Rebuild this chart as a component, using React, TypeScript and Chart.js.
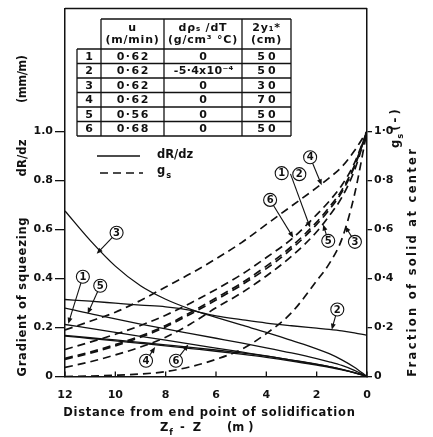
import React, { useEffect, useRef } from 'react';
import { Chart, registerables } from 'chart.js';

Chart.register(...registerables);

// ---------------- data ----------------
const distance = [12, 11, 10, 9, 8, 7, 6, 5, 4, 3, 2, 1.5, 1, 0.5, 0];

// gradient of squeezing dR/dz (mm/m), left axis, solid lines
const dRdzCase1 = [0.212, 0.196, 0.18, 0.164, 0.148, 0.132, 0.116, 0.1, 0.084, 0.067, 0.049, 0.04, 0.029, 0.016, 0];
const dRdzCase2 = [0.314, 0.307, 0.299, 0.291, 0.284, 0.27, 0.247, 0.232, 0.218, 0.207, 0.197, 0.192, 0.186, 0.178, 0.168];
const dRdzCase3 = [0.675, 0.555, 0.45, 0.37, 0.315, 0.274, 0.241, 0.21, 0.18, 0.147, 0.113, 0.093, 0.068, 0.038, 0];
const dRdzCase4 = [0.165, 0.155, 0.145, 0.135, 0.125, 0.114, 0.103, 0.091, 0.078, 0.063, 0.046, 0.037, 0.027, 0.015, 0];
const dRdzCase5 = [0.279, 0.256, 0.235, 0.214, 0.194, 0.175, 0.156, 0.137, 0.117, 0.096, 0.073, 0.06, 0.045, 0.025, 0];
const dRdzCase6 = [0.168, 0.158, 0.149, 0.139, 0.129, 0.119, 0.108, 0.096, 0.083, 0.067, 0.05, 0.04, 0.029, 0.016, 0];

// fraction of solid at center g_s (-), right axis, dashed lines
const gsCase1 = [0.074, 0.1, 0.13, 0.165, 0.208, 0.262, 0.32, 0.38, 0.45, 0.53, 0.63, 0.69, 0.76, 0.86, 1.0];
const gsCase2 = [0.07, 0.095, 0.125, 0.16, 0.202, 0.255, 0.312, 0.372, 0.44, 0.52, 0.62, 0.68, 0.752, 0.855, 1.0];
const gsCase3 = [0, 0.002, 0.005, 0.01, 0.02, 0.04, 0.07, 0.11, 0.175, 0.26, 0.39, 0.46, 0.56, 0.74, 1.0];
const gsCase4 = [0.19, 0.225, 0.262, 0.31, 0.365, 0.42, 0.48, 0.545, 0.62, 0.695, 0.77, 0.81, 0.855, 0.92, 1.0];
const gsCase5 = [0.037, 0.06, 0.088, 0.12, 0.16, 0.215, 0.28, 0.34, 0.41, 0.49, 0.59, 0.655, 0.73, 0.84, 1.0];
const gsCase6 = [0.11, 0.14, 0.172, 0.208, 0.25, 0.3, 0.355, 0.415, 0.485, 0.56, 0.66, 0.715, 0.78, 0.87, 1.0];

const xTicks = [12, 10, 8, 6, 4, 2, 0];
const yTicks = [0, 0.2, 0.4, 0.6, 0.8, 1.0];

// table of conditions
const caseNo = ['1', '2', '3', '4', '5', '6'];
const castingSpeed = ['0·62', '0·62', '0·62', '0·62', '0·56', '0·68'];
const densityGradient = ['0', '-5·4x10⁻⁴', '0', '0', '0', '0'];
const slabThickness = ['50', '50', '30', '70', '50', '50'];
const tableHead1 = ['u', 'dρₛ /dT', '2y₁*'];
const tableHead2 = ['(m/min)', '(g/cm³ °C)', '(cm)'];

// circled case labels (data coords) and their arrows
const markerText = ['3', '1', '5', '4', '6', '2', '4', '1', '2', '6', '5', '3'];
const markerX = [9.95, 11.29, 10.6, 8.78, 7.59, 1.18, 2.26, 3.39, 2.69, 3.85, 1.54, 0.48];
const markerY = [0.586, 0.407, 0.37, 0.064, 0.064, 0.273, 0.894, 0.829, 0.825, 0.72, 0.553, 0.549];
const arrowFromX = [9.95, 11.29, 10.6, 8.78, 7.59, 1.18, 2.26, 3.04, 3.85, 1.54, 0.48];
const arrowFromY = [0.586, 0.407, 0.37, 0.064, 0.064, 0.273, 0.894, 0.826, 0.72, 0.553, 0.549];
const arrowFromCircle = [true, true, true, true, true, true, true, false, true, true, true];
const arrowToX = [10.74, 11.87, 11.1, 8.42, 7.1, 1.4, 1.8, 2.26, 2.93, 1.74, 0.87];
const arrowToY = [0.5, 0.215, 0.256, 0.12, 0.13, 0.191, 0.78, 0.607, 0.566, 0.62, 0.613];

// ---------------- styling ----------------
const INK = '#111';
const FAM = '"DejaVu Sans", sans-serif';

function fitText(ctx: any, text: string, x: number, y: number, width: number, rot: number, font: string) {
  ctx.save();
  ctx.font = font;
  ctx.translate(x, y);
  ctx.rotate(rot);
  ctx.letterSpacing = '0px';
  const w = ctx.measureText(text).width;
  let ls = (width - w) / Math.max(1, text.length);
  if (ls < -0.5) ls = -0.5;
  ctx.letterSpacing = ls + 'px';
  ctx.textAlign = 'center';
  ctx.textBaseline = 'middle';
  ctx.fillText(text, ls / 2, 0);
  ctx.restore();
}

function textWithSub(ctx: any, main: string, sub: string, x: number, y: number, rot: number, size: number, align: string) {
  ctx.save();
  ctx.translate(x, y);
  ctx.rotate(rot);
  ctx.letterSpacing = '0px';
  ctx.font = `bold ${size}px ${FAM}`;
  const w1 = ctx.measureText(main).width;
  ctx.font = `bold ${size * 0.72}px ${FAM}`;
  const w2 = ctx.measureText(sub).width;
  const total = w1 + 1 + w2;
  let x0 = 0;
  if (align === 'center') x0 = -total / 2;
  ctx.textBaseline = 'middle';
  ctx.textAlign = 'left';
  ctx.font = `bold ${size}px ${FAM}`;
  ctx.fillText(main, x0, 0);
  ctx.font = `bold ${size * 0.72}px ${FAM}`;
  ctx.fillText(sub, x0 + w1 + 1, size * 0.38);
  ctx.restore();
}

function seg(ctx: any, x1: number, y1: number, x2: number, y2: number) {
  ctx.beginPath();
  ctx.moveTo(x1, y1);
  ctx.lineTo(x2, y2);
  ctx.stroke();
}

const decorPlugin = {
  id: 'decor',
  afterDraw(chart: any) {
    const { ctx, chartArea: a, scales } = chart;
    const xs = scales.x;
    const ys = scales.y;
    ctx.save();
    ctx.strokeStyle = INK;
    ctx.fillStyle = INK;
    ctx.setLineDash([]);

    // top of frame
    ctx.lineWidth = 1.5;
    seg(ctx, a.left, a.top, a.right, a.top);

    // inward x ticks
    ctx.lineWidth = 1.3;
    xTicks.forEach((v) => {
      const px = xs.getPixelForValue(v);
      seg(ctx, px, a.bottom, px, a.bottom - 5);
    });

    // ---- table ----
    const cols = [77, 101, 164, 242, 291];
    const top = 19;
    const headBottom = 49;
    const rowH = 14.5;
    const tBottom = headBottom + rowH * caseNo.length;
    ctx.lineWidth = 1.3;
    seg(ctx, cols[1], top, cols[4], top);
    for (let c = 1; c < cols.length; c++) seg(ctx, cols[c], top, cols[c], tBottom);
    seg(ctx, cols[0], headBottom, cols[0], tBottom);
    for (let r = 0; r <= caseNo.length; r++) {
      const yy = headBottom + r * rowH;
      seg(ctx, cols[0], yy, cols[4], yy);
    }
    ctx.textAlign = 'center';
    ctx.textBaseline = 'middle';
    ctx.font = `bold 11px ${FAM}`;
    ctx.letterSpacing = '0.8px';
    for (let c = 0; c < 3; c++) {
      const cx = (cols[c + 1] + cols[c + 2]) / 2;
      ctx.fillText(tableHead1[c], cx, top + 9);
      ctx.fillText(tableHead2[c], cx, top + 21);
    }
    caseNo.forEach((n, r) => {
      const cy = headBottom + r * rowH + rowH / 2 + 0.5;
      const cells = [n, castingSpeed[r], densityGradient[r], slabThickness[r]];
      cells.forEach((t, c) => {
        const cx = (cols[c] + cols[c + 1]) / 2;
        ctx.letterSpacing = c === 2 && t.length > 3 ? '0.3px' : c === 3 ? '3px' : '1.5px';
        ctx.fillText(t, cx + (c === 3 ? 1.5 : 0.75), cy);
      });
    });
    ctx.letterSpacing = '0px';

    // ---- legend ----
    ctx.lineWidth = 1.3;
    seg(ctx, 97, 156, 140, 156);
    ctx.lineWidth = 1.7;
    ctx.setLineDash([8, 5]);
    seg(ctx, 100, 173, 143, 173);
    ctx.setLineDash([]);
    ctx.font = `bold 11.5px ${FAM}`;
    ctx.textAlign = 'left';
    ctx.textBaseline = 'middle';
    ctx.fillText('dR/dz', 157, 155);
    textWithSub(ctx, 'g', 's', 157, 171, 0, 11.5, 'left');

    // ---- circled labels and arrows ----
    const R = 6.5;
    ctx.lineWidth = 1.1;
    markerText.forEach((t, i) => {
      const cx = xs.getPixelForValue(markerX[i]);
      const cy = ys.getPixelForValue(markerY[i]);
      ctx.beginPath();
      ctx.arc(cx, cy, R, 0, Math.PI * 2);
      ctx.stroke();
      ctx.font = `bold 10px ${FAM}`;
      ctx.textAlign = 'center';
      ctx.textBaseline = 'middle';
      ctx.fillText(t, cx, cy + 0.5);
    });
    arrowToX.forEach((_, i) => {
      let x1 = xs.getPixelForValue(arrowFromX[i]);
      let y1 = ys.getPixelForValue(arrowFromY[i]);
      const x2 = xs.getPixelForValue(arrowToX[i]);
      const y2 = ys.getPixelForValue(arrowToY[i]);
      const d = Math.hypot(x2 - x1, y2 - y1);
      const ux = (x2 - x1) / d;
      const uy = (y2 - y1) / d;
      if (arrowFromCircle[i]) {
        x1 += ux * R;
        y1 += uy * R;
      }
      ctx.lineWidth = 1.1;
      seg(ctx, x1, y1, x2 - ux * 3, y2 - uy * 3);
      ctx.beginPath();
      ctx.moveTo(x2, y2);
      ctx.lineTo(x2 - ux * 6 - uy * 2.5, y2 - uy * 6 + ux * 2.5);
      ctx.lineTo(x2 - ux * 6 + uy * 2.5, y2 - uy * 6 - ux * 2.5);
      ctx.closePath();
      ctx.fill();
    });

    // ---- axis titles ----
    const tFont = `bold 11.5px ${FAM}`;
    const up = -Math.PI / 2;
    fitText(ctx, 'Distance from end point of solidification', 209, 413, 292, 0, tFont);
    ctx.font = tFont;
    ctx.textAlign = 'left';
    ctx.textBaseline = 'middle';
    textWithSub(ctx, 'Z', 'f', 160, 428, 0, 11.5, 'left');
    ctx.font = tFont;
    ctx.textAlign = 'left';
    ctx.fillText('-  Z', 180, 428);
    ctx.fillText('(m )', 227, 428);

    fitText(ctx, 'Gradient of squeezing', 23, 297, 160, up, tFont);
    fitText(ctx, 'dR/dz', 23, 158, 37, up, tFont);
    fitText(ctx, '(mm/m)', 23, 79, 37, up, tFont);

    fitText(ctx, 'Fraction of solid at center', 413, 263, 230, up, tFont);
    textWithSub(ctx, 'g', 's', 396, 141, up, 11.5, 'center');
    fitText(ctx, '( - )', 396, 120, 14, up, tFont);

    ctx.restore();
  },
};

export default function App() {
  const ref = useRef<HTMLCanvasElement>(null);

  useEffect(() => {
    const canvas = ref.current as HTMLCanvasElement;
    const pts = (vals: number[]) => distance.map((x, i) => ({ x, y: vals[i] }));
    const solid = (label: string, vals: number[]) => ({
      label,
      data: pts(vals),
      borderColor: INK,
      borderWidth: 1.3,
      pointRadius: 0,
      fill: false,
      tension: 0.4,
      cubicInterpolationMode: 'monotone',
      yAxisID: 'y',
    });
    const dashed = (label: string, vals: number[]) => ({
      label,
      data: pts(vals),
      borderColor: INK,
      borderWidth: 1.7,
      borderDash: [8, 5],
      pointRadius: 0,
      fill: false,
      tension: 0.4,
      cubicInterpolationMode: 'monotone',
      yAxisID: 'y1',
    });
    const tickFont = { family: '"DejaVu Sans", sans-serif', size: 11, weight: 'bold' as const };

    const chart = new Chart(canvas, {
      type: 'line',
      data: {
        datasets: [
          solid('dR/dz 1', dRdzCase1),
          solid('dR/dz 2', dRdzCase2),
          solid('dR/dz 3', dRdzCase3),
          solid('dR/dz 4', dRdzCase4),
          solid('dR/dz 5', dRdzCase5),
          solid('dR/dz 6', dRdzCase6),
          dashed('gs 1', gsCase1),
          dashed('gs 2', gsCase2),
          dashed('gs 3', gsCase3),
          dashed('gs 4', gsCase4),
          dashed('gs 5', gsCase5),
          dashed('gs 6', gsCase6),
        ] as any,
      },
      options: {
        animation: false,
        responsive: false,
        devicePixelRatio: 1,
        layout: { padding: { top: 7, left: 0, right: 0, bottom: 0 } },
        plugins: { legend: { display: false }, tooltip: { enabled: false } },
        scales: {
          x: {
            type: 'linear',
            min: 0,
            max: 12,
            reverse: true,
            afterBuildTicks: (s: any) => {
              s.ticks = xTicks.map((v) => ({ value: v }));
            },
            afterFit: (s: any) => {
              s.height = 60.5;
            },
            ticks: {
              autoSkip: false,
              maxRotation: 0,
              padding: 12,
              color: INK,
              font: tickFont,
              callback: (v: any) => String(v),
            },
            grid: { display: false, drawTicks: false },
            border: { display: true, color: INK, width: 1.5 },
          },
          y: {
            type: 'linear',
            position: 'left',
            min: 0,
            max: 1.5,
            afterBuildTicks: (s: any) => {
              s.ticks = yTicks.map((v) => ({ value: v }));
            },
            afterFit: (s: any) => {
              s.width = 65;
            },
            ticks: {
              padding: 2,
              color: INK,
              font: tickFont,
              callback: (v: any) => (v === 0 ? '0' : Number(v).toFixed(1)),
            },
            grid: { drawOnChartArea: false, drawTicks: true, tickLength: 10, color: INK, lineWidth: 1.3 },
            border: { display: true, color: INK, width: 1.5 },
          },
          y1: {
            type: 'linear',
            position: 'right',
            min: 0,
            max: 1.5,
            afterBuildTicks: (s: any) => {
              s.ticks = yTicks.map((v) => ({ value: v }));
            },
            afterFit: (s: any) => {
              s.width = 66;
            },
            ticks: {
              padding: 2,
              color: INK,
              font: tickFont,
              callback: (v: any) => (v === 0 ? '0' : Number(v).toFixed(1).replace('.', '·')),
            },
            grid: { drawOnChartArea: false, drawTicks: true, tickLength: 5, color: INK, lineWidth: 1.3 },
            border: { display: true, color: INK, width: 1.5 },
          },
        },
      } as any,
      plugins: [decorPlugin],
    });
    return () => chart.destroy();
  }, []);

  return (
    <div style={{ position: 'fixed', left: 0, top: 0, width: 433, height: 437, background: '#fff' }}>
      <canvas ref={ref} width={433} height={437} style={{ display: 'block', width: 433, height: 437 }} />
    </div>
  );
}
